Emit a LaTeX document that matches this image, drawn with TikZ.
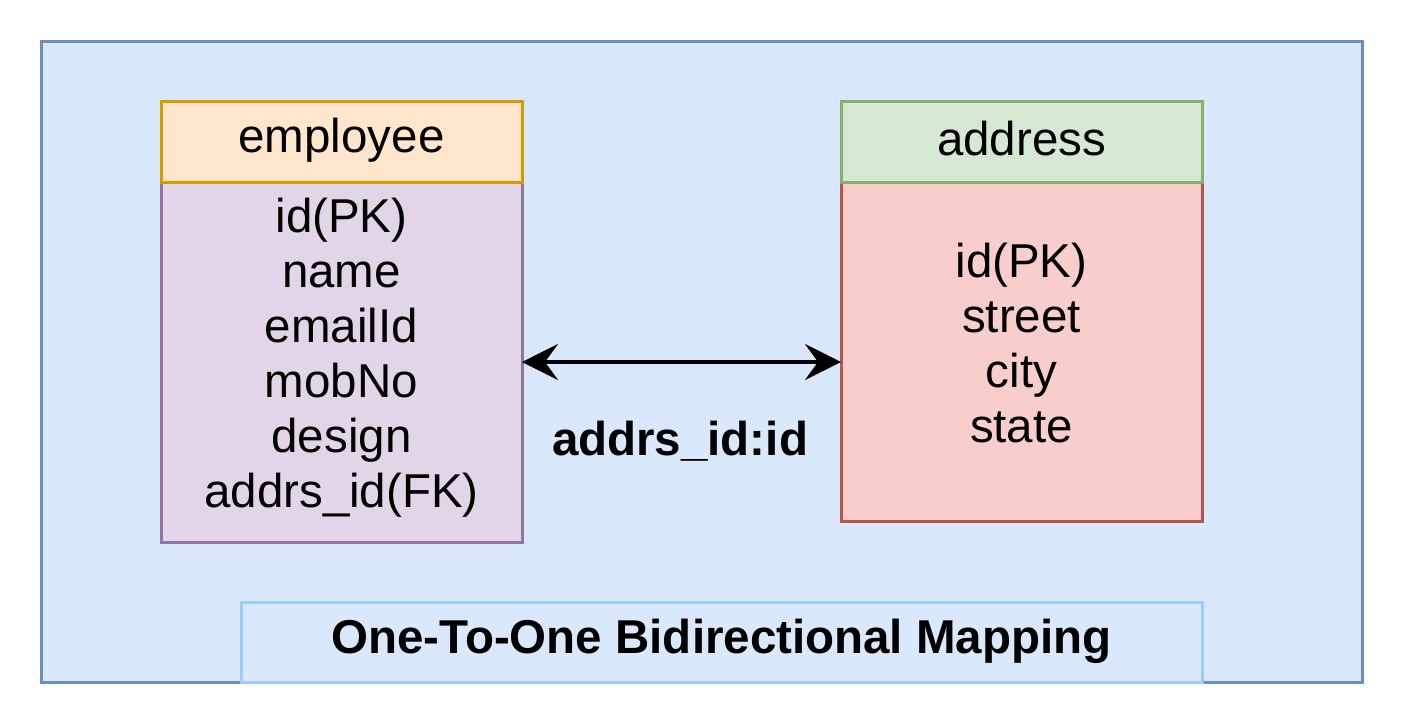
\documentclass[tikz,border=0pt]{standalone}
\usepackage{fontspec}
\setmainfont{Liberation Sans}
\usetikzlibrary{arrows.meta}
\definecolor{outerfill}{HTML}{DAE8FC}
\definecolor{outerdraw}{HTML}{6C8EBF}
\definecolor{empheadfill}{HTML}{FFE6CC}
\definecolor{empheaddraw}{HTML}{D79B00}
\definecolor{empbodyfill}{HTML}{E1D5E7}
\definecolor{empbodydraw}{HTML}{9673A6}
\definecolor{addheadfill}{HTML}{D5E8D4}
\definecolor{addheaddraw}{HTML}{82B366}
\definecolor{addbodyfill}{HTML}{F8CECC}
\definecolor{addbodydraw}{HTML}{B85450}
\definecolor{labeldraw}{HTML}{99CCFF}
\tikzset{
  boxline/.style={line width=3pt},
  bigtext/.style={font=\fontsize{47.5}{55}\selectfont, align=center},
  boldtext/.style={font=\fontsize{47.5}{55}\selectfont\bfseries, align=center},
  midtext/.style={font=\fontsize{47.5}{55}\selectfont\bfseries, align=center},
}
\begin{document}
\begin{tikzpicture}[x=1pt,y=-1pt]
\useasboundingbox (0,0) rectangle (1404,724);
% outer container
\draw[boxline, fill=outerfill, draw=outerdraw] (41,41) rectangle (1362,682);
% employee table
\draw[boxline, fill=empbodyfill, draw=empbodydraw] (161,182) rectangle (522,542);
\draw[boxline, fill=empheadfill, draw=empheaddraw] (161,101) rectangle (522,182);
\node[bigtext] (emphead) at (341.5,140) {employee};
\node[bigtext] (empbody) at (341.5,358) {id(PK)\\name\\emailId\\mobNo\\design\\addrs\_id(FK)};
% address table
\draw[boxline, fill=addbodyfill, draw=addbodydraw] (841,182) rectangle (1202,521);
\draw[boxline, fill=addheadfill, draw=addheaddraw] (841,101) rectangle (1202,182);
\node[bigtext] (addhead) at (1021.5,139) {address};
\node[bigtext] (addbody) at (1021.5,343) {id(PK)\\street\\city\\state};
% anchors for the connector
\coordinate (empright) at (522,362);
\coordinate (addleft) at (841,362);
\draw[line width=3.5pt, {Stealth[length=36pt,width=36pt,inset=13pt]}-{Stealth[length=36pt,width=36pt,inset=13pt]}] (empright) -- (addleft);
\node[midtext] (rel) at (680,441) {addrs\_id:id};
% bottom label
\draw[boxline, fill=outerfill, draw=labeldraw] (241,602) rectangle (1202,682);
\node[boldtext] (title) at (721.5,641) {One-To-One Bidirectional Mapping};
\end{tikzpicture}
\end{document}
